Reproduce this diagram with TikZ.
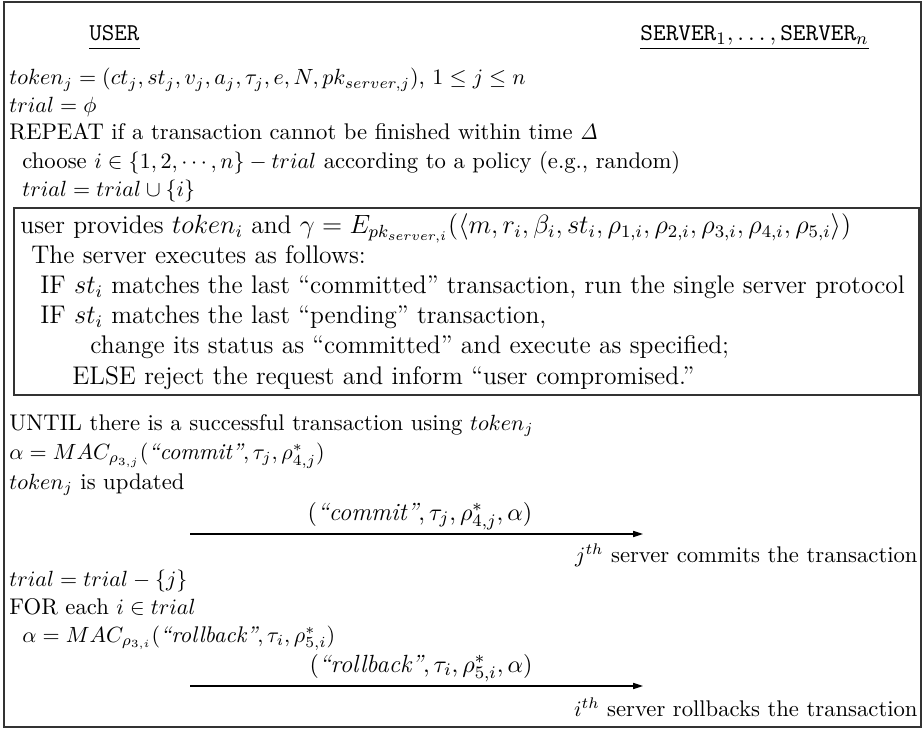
\documentclass[tikz,border=0pt]{standalone}
\usetikzlibrary{arrows.meta}
\begin{document}
\begin{tikzpicture}[x=0.4545pt, y=-0.4545pt,
    txt/.style={anchor=base west, inner sep=0pt, font=\fontsize{10.3}{12}\selectfont},
    boxtxt/.style={txt, font=\fontsize{11.6}{14}\selectfont},
    rtxt/.style={anchor=base east, inner sep=0pt, font=\fontsize{10.3}{12}\selectfont},
    lbl/.style={anchor=base, inner sep=0pt, font=\fontsize{11.3}{14}\selectfont},
    head/.style={anchor=base west, inner sep=0pt, font=\fontsize{11}{14}\selectfont},
    frame/.style={draw=black!80, line width=0.6pt},
    msg/.style={-{Triangle[length=4.5pt, width=2.8pt]}, line width=0.5pt},
]
\useasboundingbox (0,0) rectangle (923,730);

% outer frame
\draw[frame] (4,2) rectangle (921,727);

% header
\node[head] (user) at (89,41) {\texttt{USER}};
\node[head] (srv) at (640,41) {$\mathtt{SERVER}_1,\ldots,\mathtt{SERVER}_n$};
\draw[line width=0.5pt] ([yshift=-3.6pt]user.base west) -- ([yshift=-3.6pt]user.base east);
\draw[line width=0.5pt] ([yshift=-3.6pt]srv.base west) -- ([yshift=-3.6pt]srv.base east);

% setup and loop
\node[txt] (tok) at (9,85) {$token_j = (ct_j, st_j, v_j, a_j, \tau_j, e, N, pk_{server,j})$, $1 \le j \le n$};
\node[txt] (tri0) at (9,112.5) {$trial = \phi$};
\node[txt] (rep) at (9,140) {REPEAT if a transaction cannot be finished within time $\mathit{\Delta}$};
\node[txt] (cho) at (22,168.5) {choose $i \in \{1, 2, \cdots, n\} - trial$ according to a policy (e.g., random)};
\node[txt] (tri1) at (22,197) {$trial = trial \cup \{i\}$};

% server side box
\draw[frame] (14,208) rectangle (919,395);
\node[boxtxt] (prov) at (20,234) {user provides $token_i$ and $\gamma = E_{pk_{server,i}}(\langle m, r_i, \beta_i, st_i, \rho_{1,i}, \rho_{2,i}, \rho_{3,i}, \rho_{4,i}, \rho_{5,i}\rangle)$};
\node[boxtxt] (exe) at (31,264) {The server executes as follows:};
\node[boxtxt] (if1) at (40,293.5) {IF $st_i$ matches the last ``committed'' transaction, run the single server protocol};
\node[boxtxt] (if2) at (40,323.5) {IF $st_i$ matches the last ``pending'' transaction,};
\node[boxtxt] (chg) at (90,354) {change its status as ``committed'' and execute as specified;};
\node[boxtxt] (els) at (72,384.5) {ELSE reject the request and inform ``user compromised.''};

% commit
\node[txt] (unt) at (9,430) {UNTIL there is a successful transaction using $token_j$};
\node[txt] (mac1) at (9,459.5) {$\alpha = MAC_{\rho_{3,j}}(\textit{``commit''}, \tau_j, \rho^*_{4,j})$};
\node[txt] (upd) at (9,489) {$token_j$ is updated};
\coordinate (c1a) at (190,534);
\coordinate (c1b) at (643,534);
\draw[msg] (c1a) -- (c1b);
\node[lbl] (m1) at (420,520) {$(\textit{``commit''}, \tau_j, \rho^*_{4,j}, \alpha)$};
\node[rtxt] (srv1) at (918,562) {$j^{th}$ server commits the transaction};

% rollback
\node[txt] (tri2) at (9,586) {$trial = trial - \{j\}$};
\node[txt] (for) at (9,614) {FOR each $i \in trial$};
\node[txt] (mac2) at (22,642) {$\alpha = MAC_{\rho_{3,i}}(\textit{``rollback''}, \tau_i, \rho^*_{5,i})$};
\coordinate (c2a) at (190,686);
\coordinate (c2b) at (643,686);
\draw[msg] (c2a) -- (c2b);
\node[lbl] (m2) at (421,672) {$(\textit{``rollback''}, \tau_i, \rho^*_{5,i}, \alpha)$};
\node[rtxt] (srv2) at (918,716) {$i^{th}$ server rollbacks the transaction};

\end{tikzpicture}
\end{document}
